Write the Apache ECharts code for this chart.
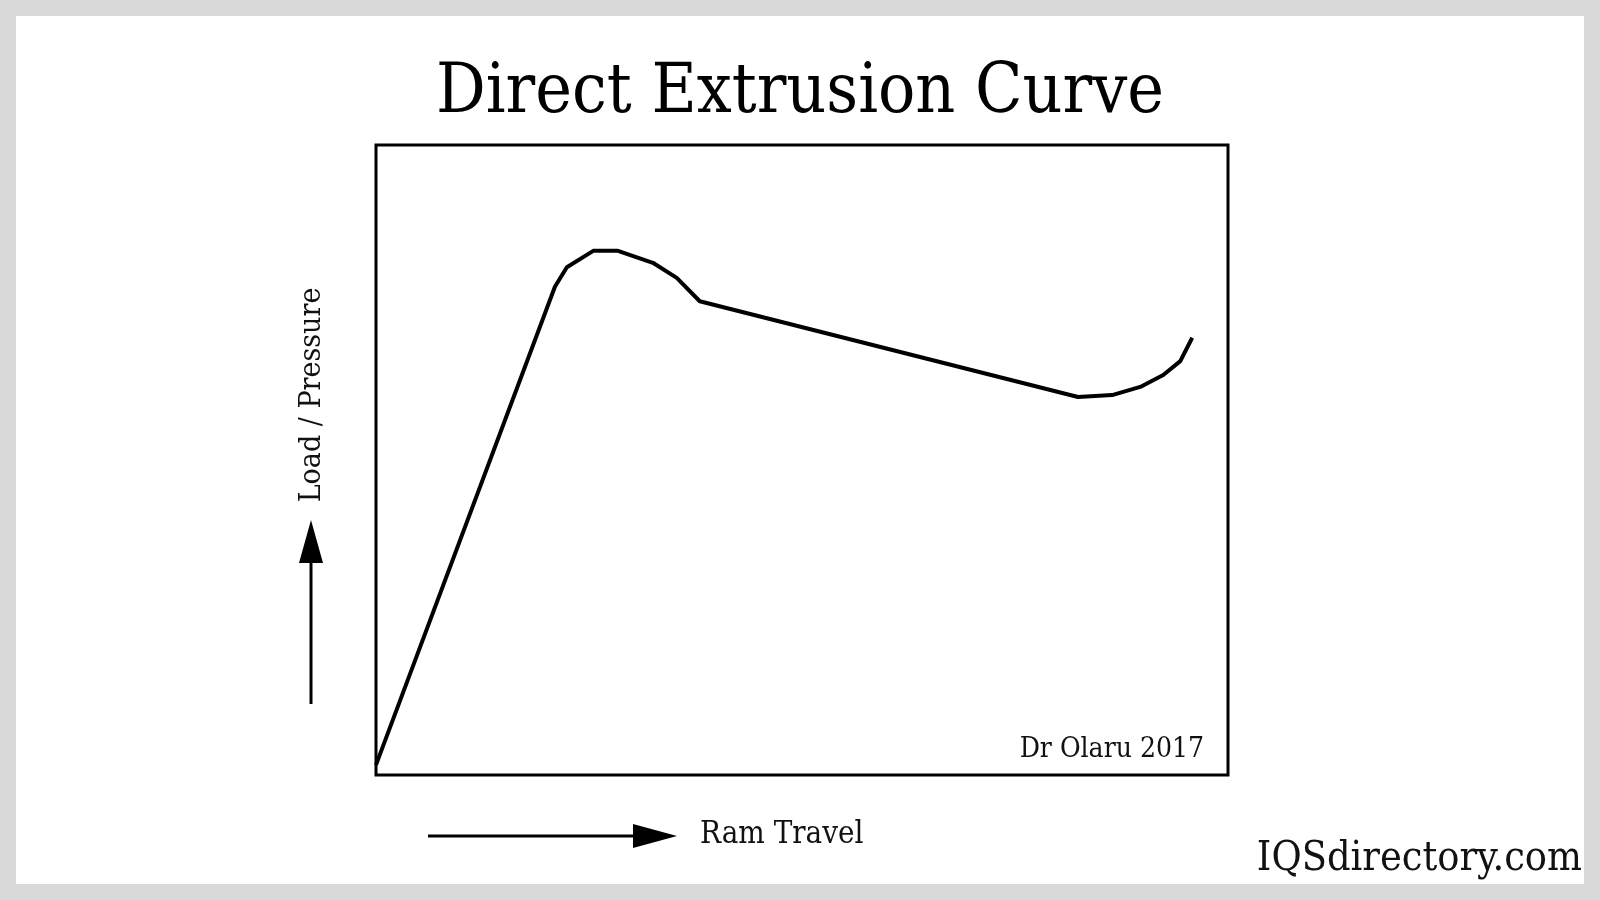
<!DOCTYPE html>
<html>
<head>
<meta charset="utf-8">
<title>Direct Extrusion Curve</title>
<script src="https://cdn.jsdelivr.net/npm/echarts@6/dist/echarts.min.js"></script>
<style>
  html, body { margin: 0; padding: 0; background: #d9d9d9; }
  #chart { width: 1600px; height: 900px; }
</style>
</head>
<body>
<div id="chart"></div>
<script>
// ram travel (0-100 across the frame) and load (0-100 up the frame)
const ramTravel = [0, 21.0, 22.4, 25.5, 28.4, 32.5, 35.3, 38.0, 82.4, 86.4, 89.7, 92.4, 94.4, 95.8]
const loadValues = [1.6, 77.5, 80.6, 83.2, 83.2, 81.3, 78.9, 75.2, 60.0, 60.3, 61.6, 63.5, 65.7, 69.4]

const titleText = 'Direct Extrusion Curve'
const yName = 'Load / Pressure'
const xName = 'Ram Travel'
const credit = 'Dr Olaru 2017'
const brand = 'IQSdirectory.com'

const serif = '"DejaVu Serif Condensed", "DejaVu Serif", serif'

const chart = echarts.init(document.getElementById('chart'))

const seriesData = ramTravel.map((x, i) => [x, loadValues[i]])

const option = {
  backgroundColor: '#d9d9d9',
  animation: false,
  grid: {
    left: 376,
    top: 145,
    width: 852,
    height: 630,
    show: true,
    backgroundColor: '#fff',
    borderColor: '#000',
    borderWidth: 3
  },
  xAxis: {
    type: 'value',
    min: 0,
    max: 100,
    show: false
  },
  yAxis: {
    type: 'value',
    min: 0,
    max: 100,
    show: false
  },
  graphic: [
    // white card behind everything
    {
      type: 'rect',
      z: -10,
      silent: true,
      shape: { x: 16, y: 16, width: 1568, height: 868 },
      style: { fill: '#fff' }
    },
    {
      type: 'text',
      x: 800,
      y: 94,
      style: { text: titleText, font: '69px ' + serif, fill: '#000', align: 'center', verticalAlign: 'middle' }
    },
    // y arrow
    {
      type: 'line',
      shape: { x1: 311, y1: 704, x2: 311, y2: 555 },
      style: { stroke: '#000', lineWidth: 3 }
    },
    {
      type: 'polygon',
      shape: { points: [[311, 520], [299, 563], [323, 563]] },
      style: { fill: '#000' }
    },
    {
      type: 'text',
      x: 312,
      y: 395,
      rotation: Math.PI / 2,
      style: { text: yName, font: '30px ' + serif, fill: '#111', align: 'center', verticalAlign: 'middle' }
    },
    // x arrow
    {
      type: 'line',
      shape: { x1: 428, y1: 836, x2: 640, y2: 836 },
      style: { stroke: '#000', lineWidth: 3 }
    },
    {
      type: 'polygon',
      shape: { points: [[677, 836], [633, 824], [633, 848]] },
      style: { fill: '#000' }
    },
    {
      type: 'text',
      x: 700,
      y: 835,
      style: { text: xName, font: '31px ' + serif, fill: '#111', verticalAlign: 'middle' }
    },
    {
      type: 'text',
      x: 1204,
      y: 750,
      style: { text: credit, font: '28px ' + serif, fill: '#111', align: 'right', verticalAlign: 'middle' }
    },
    {
      type: 'text',
      x: 1582,
      y: 859,
      style: { text: brand, font: '41px ' + serif, fill: '#111', align: 'right', verticalAlign: 'middle' }
    }
  ],
  series: [
    {
      type: 'line',
      data: seriesData,
      showSymbol: false,
      smooth: false,
      lineStyle: { color: '#000', width: 4 }
    }
  ]
}

chart.setOption(option)
</script>
</body>
</html>
